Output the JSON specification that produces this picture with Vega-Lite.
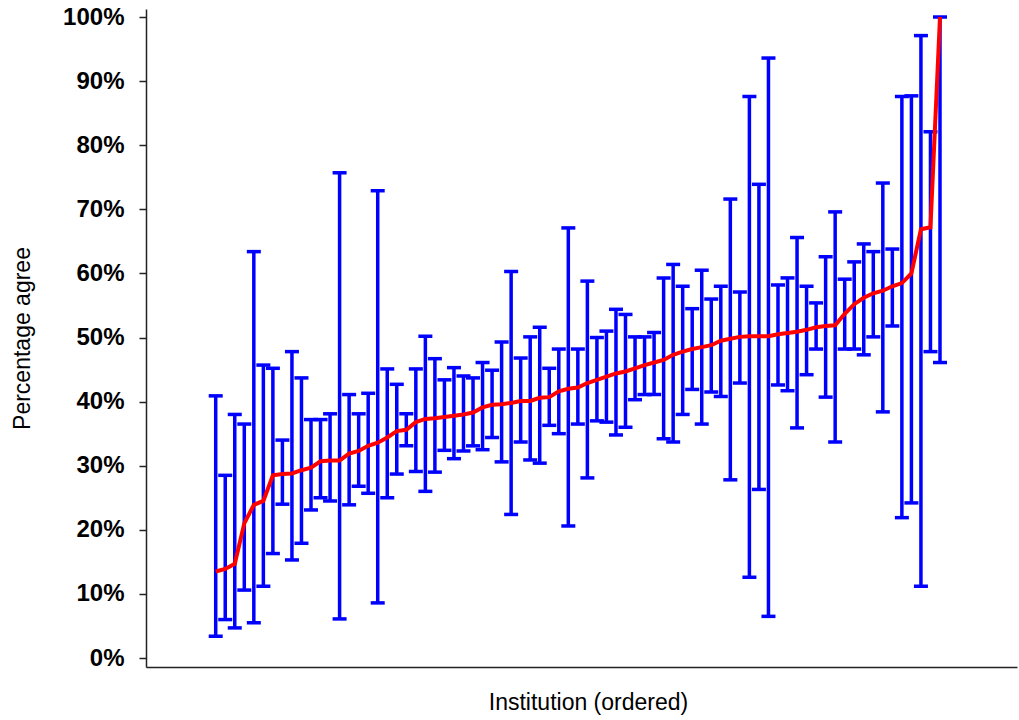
{
  "$schema": "https://vega.github.io/schema/vega-lite/v6.json",
  "width": 871,
  "height": 658,
  "autosize": {"type": "none"},
  "padding": {"left": 146, "top": 9, "right": 2, "bottom": 53},
  "background": "white",
  "config": {"view": {"stroke": null}, "axis": {"grid": false}},
  "data": {"values": [
    {"i": 1, "est": 13.5, "lo": 3.4, "hi": 40.9},
    {"i": 2, "est": 13.9, "lo": 6.0, "hi": 28.5},
    {"i": 3, "est": 14.7, "lo": 4.7, "hi": 38.0},
    {"i": 4, "est": 21.0, "lo": 10.6, "hi": 36.5},
    {"i": 5, "est": 23.9, "lo": 5.5, "hi": 63.4},
    {"i": 6, "est": 24.5, "lo": 11.2, "hi": 45.7},
    {"i": 7, "est": 28.5, "lo": 16.3, "hi": 45.2},
    {"i": 8, "est": 28.7, "lo": 24.0, "hi": 34.0},
    {"i": 9, "est": 28.8, "lo": 15.3, "hi": 47.8},
    {"i": 10, "est": 29.3, "lo": 17.9, "hi": 43.7},
    {"i": 11, "est": 29.7, "lo": 23.1, "hi": 37.2},
    {"i": 12, "est": 30.7, "lo": 25.0, "hi": 37.2},
    {"i": 13, "est": 30.8, "lo": 24.5, "hi": 38.1},
    {"i": 14, "est": 30.8, "lo": 6.1, "hi": 75.7},
    {"i": 15, "est": 31.9, "lo": 23.9, "hi": 41.1},
    {"i": 16, "est": 32.3, "lo": 26.8, "hi": 38.1},
    {"i": 17, "est": 33.1, "lo": 25.7, "hi": 41.3},
    {"i": 18, "est": 33.6, "lo": 8.6, "hi": 72.9},
    {"i": 19, "est": 34.4, "lo": 25.0, "hi": 45.1},
    {"i": 20, "est": 35.4, "lo": 28.7, "hi": 42.7},
    {"i": 21, "est": 35.6, "lo": 33.1, "hi": 38.1},
    {"i": 22, "est": 36.8, "lo": 29.1, "hi": 45.1},
    {"i": 23, "est": 37.3, "lo": 26.0, "hi": 50.2},
    {"i": 24, "est": 37.4, "lo": 29.0, "hi": 46.7},
    {"i": 25, "est": 37.6, "lo": 32.4, "hi": 43.4},
    {"i": 26, "est": 37.8, "lo": 31.1, "hi": 45.3},
    {"i": 27, "est": 38.0, "lo": 32.3, "hi": 44.0},
    {"i": 28, "est": 38.3, "lo": 33.1, "hi": 43.7},
    {"i": 29, "est": 39.1, "lo": 32.5, "hi": 46.1},
    {"i": 30, "est": 39.5, "lo": 34.4, "hi": 44.9},
    {"i": 31, "est": 39.6, "lo": 30.6, "hi": 49.3},
    {"i": 32, "est": 39.8, "lo": 22.4, "hi": 60.3},
    {"i": 33, "est": 40.1, "lo": 33.7, "hi": 46.8},
    {"i": 34, "est": 40.1, "lo": 30.9, "hi": 50.1},
    {"i": 35, "est": 40.6, "lo": 30.4, "hi": 51.6},
    {"i": 36, "est": 40.7, "lo": 36.3, "hi": 45.2},
    {"i": 37, "est": 41.6, "lo": 35.0, "hi": 48.2},
    {"i": 38, "est": 42.0, "lo": 20.6, "hi": 67.1},
    {"i": 39, "est": 42.2, "lo": 36.5, "hi": 48.2},
    {"i": 40, "est": 42.9, "lo": 28.1, "hi": 58.8},
    {"i": 41, "est": 43.4, "lo": 37.0, "hi": 50.0},
    {"i": 42, "est": 43.9, "lo": 36.8, "hi": 51.0},
    {"i": 43, "est": 44.4, "lo": 34.8, "hi": 54.4},
    {"i": 44, "est": 44.7, "lo": 36.0, "hi": 53.6},
    {"i": 45, "est": 45.2, "lo": 40.3, "hi": 50.1},
    {"i": 46, "est": 45.7, "lo": 41.1, "hi": 50.1},
    {"i": 47, "est": 46.1, "lo": 41.1, "hi": 50.8},
    {"i": 48, "est": 46.5, "lo": 34.2, "hi": 59.3},
    {"i": 49, "est": 47.3, "lo": 33.7, "hi": 61.4},
    {"i": 50, "est": 47.8, "lo": 38.0, "hi": 58.0},
    {"i": 51, "est": 48.2, "lo": 41.9, "hi": 54.5},
    {"i": 52, "est": 48.5, "lo": 36.5, "hi": 60.5},
    {"i": 53, "est": 48.8, "lo": 41.5, "hi": 56.0},
    {"i": 54, "est": 49.5, "lo": 40.8, "hi": 58.0},
    {"i": 55, "est": 49.8, "lo": 27.8, "hi": 71.6},
    {"i": 56, "est": 50.1, "lo": 42.9, "hi": 57.1},
    {"i": 57, "est": 50.2, "lo": 12.6, "hi": 87.6},
    {"i": 58, "est": 50.2, "lo": 26.3, "hi": 73.9},
    {"i": 59, "est": 50.2, "lo": 6.5, "hi": 93.6},
    {"i": 60, "est": 50.5, "lo": 42.6, "hi": 58.2},
    {"i": 61, "est": 50.7, "lo": 41.7, "hi": 59.3},
    {"i": 62, "est": 50.9, "lo": 35.9, "hi": 65.6},
    {"i": 63, "est": 51.2, "lo": 44.2, "hi": 58.0},
    {"i": 64, "est": 51.6, "lo": 48.2, "hi": 55.4},
    {"i": 65, "est": 51.8, "lo": 40.7, "hi": 62.6},
    {"i": 66, "est": 51.9, "lo": 33.7, "hi": 69.6},
    {"i": 67, "est": 53.7, "lo": 48.2, "hi": 59.1},
    {"i": 68, "est": 55.2, "lo": 48.2, "hi": 61.8},
    {"i": 69, "est": 56.2, "lo": 47.3, "hi": 64.6},
    {"i": 70, "est": 56.9, "lo": 50.1, "hi": 63.4},
    {"i": 71, "est": 57.3, "lo": 38.4, "hi": 74.1},
    {"i": 72, "est": 58.0, "lo": 51.8, "hi": 63.8},
    {"i": 73, "est": 58.5, "lo": 21.9, "hi": 87.6},
    {"i": 74, "est": 60.0, "lo": 24.2, "hi": 87.7},
    {"i": 75, "est": 66.9, "lo": 11.2, "hi": 97.1},
    {"i": 76, "est": 67.2, "lo": 47.8, "hi": 82.1},
    {"i": 77, "est": 100.0, "lo": 46.1, "hi": 100.0}
  ]},
  "encoding": {
    "x": {
      "field": "i",
      "type": "quantitative",
      "scale": {"domain": [-6.314, 85.08], "nice": false, "zero": false},
      "axis": {
        "title": "Institution (ordered)",
        "labels": false,
        "ticks": false,
        "grid": false,
        "domain": true,
        "domainColor": "#222222",
        "domainWidth": 1.5,
        "titleFont": "Liberation Sans, Arial, sans-serif",
        "titleFontSize": 23,
        "titleFontWeight": "normal",
        "titleColor": "#000000",
        "titleX": 442,
        "titleY": 35,
        "titleAlign": "center",
        "titleBaseline": "middle"
      }
    }
  },
  "layer": [
    {
      "mark": {"type": "rule", "color": "#0000FF", "strokeWidth": 3.5},
      "encoding": {
        "y": {
          "field": "lo",
          "type": "quantitative",
          "scale": {"domain": [-1.4, 101.25], "nice": false, "zero": false},
          "axis": {
            "title": "Percentage agree",
            "values": [0, 10, 20, 30, 40, 50, 60, 70, 80, 90, 100],
            "labelExpr": "datum.value + '%'",
            "grid": false,
            "domain": true,
            "domainColor": "#222222",
            "domainWidth": 1.5,
            "ticks": true,
            "tickColor": "#222222",
            "tickSize": 7,
            "tickWidth": 1.5,
            "labelFont": "Liberation Sans, Arial, sans-serif",
            "labelFontWeight": "bold",
            "labelFontSize": 24,
            "labelColor": "#000000",
            "labelPadding": 15,
            "labelOverlap": false,
            "labelAlign": "right",
            "labelBaseline": "middle",
            "titleFont": "Liberation Sans, Arial, sans-serif",
            "titleFontSize": 23,
            "titleFontWeight": "normal",
            "titleColor": "#000000",
            "titleX": -124,
            "titleY": 329,
            "titleAngle": 270,
            "titleAlign": "center",
            "titleBaseline": "middle"
          }
        },
        "y2": {"field": "hi"}
      }
    },
    {
      "mark": {"type": "tick", "orient": "horizontal", "color": "#0000FF", "size": 14, "thickness": 3.5, "opacity": 1},
      "encoding": {
        "y": {"field": "lo", "type": "quantitative", "scale": {"domain": [-1.4, 101.25], "nice": false, "zero": false}, "axis": {"title": "Percentage agree"}}
      }
    },
    {
      "mark": {"type": "tick", "orient": "horizontal", "color": "#0000FF", "size": 14, "thickness": 3.5, "opacity": 1},
      "encoding": {
        "y": {"field": "hi", "type": "quantitative", "scale": {"domain": [-1.4, 101.25], "nice": false, "zero": false}, "axis": {"title": "Percentage agree"}}
      }
    },
    {
      "mark": {"type": "line", "color": "#FF0000", "strokeWidth": 4},
      "encoding": {
        "y": {"field": "est", "type": "quantitative", "scale": {"domain": [-1.4, 101.25], "nice": false, "zero": false}, "axis": {"title": "Percentage agree"}}
      }
    }
  ]
}
